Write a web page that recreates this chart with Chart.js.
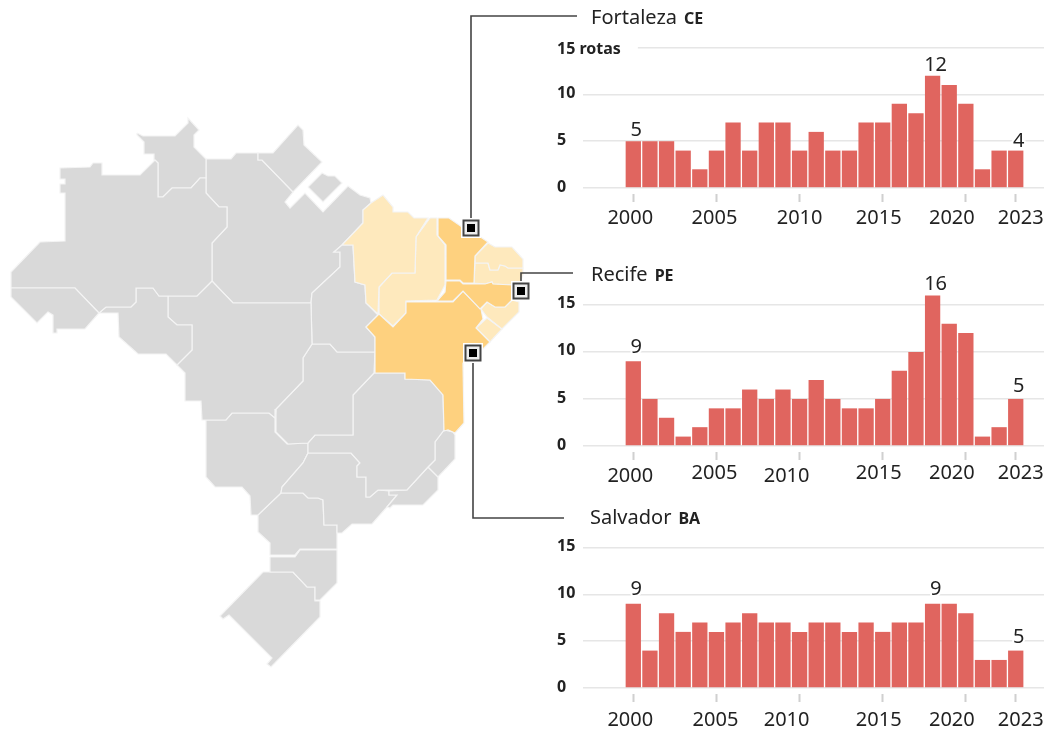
<!DOCTYPE html>
<html lang="pt">
<head>
<meta charset="utf-8">
<title>Rotas</title>
<script src="https://cdn.jsdelivr.net/npm/chart.js@4"></script>
<style>
    body{margin:0;background:#fff;font-family:"Noto Sans",sans-serif;color:#222;}
    #page{position:relative;width:1049px;height:731px;overflow:hidden;}
    canvas{position:absolute;filter:blur(0.35px);}
    .city{position:absolute;left:591px;font-size:20px;line-height:24px;white-space:nowrap;}
    .city b{font-size:16px;margin-left:7px;}
</style>
</head>
<body>
<div id="page">
    <canvas id="map" width="1049" height="731" style="left:0;top:0"></canvas>
    <canvas id="fortaleza"></canvas>
    <canvas id="recife"></canvas>
    <canvas id="salvador"></canvas>
    <div class="city" style="top:5px">Fortaleza<b>CE</b></div>
    <div class="city" style="top:262px">Recife<b>PE</b></div>
    <div class="city" style="top:505px;left:590px">Salvador<b>BA</b></div>
</div>
<script>
'use strict';
// --------bar data------
const years = [2000,2001,2002,2003,2004,2005,2006,2007,2008,2009,2010,2011,2012,2013,2014,2015,2016,2017,2018,2019,2020,2021,2022,2023];
const tickYears = [2000,2005,2010,2015,2020,2023];
const yTicks = [0,5,10,15];

const fortalezaValues = [5,5,5,4,2,4,7,4,7,7,4,6,4,4,7,7,9,8,12,11,9,2,4,4];
const recifeValues = [9,5,3,1,2,4,4,6,5,6,5,7,5,4,4,5,8,10,16,13,12,1,2,5];
const salvadorValues = [9,4,8,6,7,6,7,8,7,7,6,7,7,6,7,6,7,7,9,9,8,3,3,4];

// numbers written above the bars, as printed on the original
const labelYears = [2000,2018,2023];
const fortalezaNotes = [5,12,4];
const recifeNotes = [9,16,5];
const salvadorNotes = [9,9,5];

// --------map data------
const acre = [[11,288],[75,288],[99,313],[85,329],[57,329],[57,333],[53,333],[53,315],[48,312],[37,323],[11,297]];
const amazonas = [[11,288],[11,272],[40,242],[65,241],[65,193],[60,193],[60,184],[65,184],[65,179],[60,179],[60,168],[90,167],[93,163],[102,163],[102,175],[140,175],[155,160],[158,163],[158,197],[163,197],[172,188],[191,188],[200,178],[206,178],[206,193],[219,207],[227,207],[227,227],[212,243],[212,281],[197,296],[159,296],[153,288],[136,288],[136,302],[131,307],[106,307],[99,313],[75,288]];
const roraima = [[137,133],[143,136],[175,136],[188,123],[188,118],[199,130],[194,135],[194,147],[206,159],[206,178],[200,178],[191,188],[172,188],[163,197],[158,197],[158,163],[155,160],[154,154],[144,154],[144,142],[137,135]];
const rondonia = [[99,313],[118,313],[119,337],[138,354],[166,354],[177,365],[192,350],[192,325],[177,325],[168,317],[168,296],[159,296],[153,288],[136,288],[136,302],[131,307],[106,307]];
const matoGrosso = [[168,296],[197,296],[212,281],[233,303],[311,303],[312,344],[303,358],[303,381],[276,409],[275,418],[269,413],[232,413],[226,420],[202,420],[201,401],[185,401],[185,373],[177,365],[192,350],[192,325],[177,325],[168,317]];
const tocantins = [[312,293],[340,267],[340,252],[334,252],[342,245],[353,245],[355,282],[365,285],[366,303],[378,315],[366,327],[375,337],[375,352],[337,352],[330,344],[312,344],[311,303]];
const goias = [[312,344],[303,358],[303,381],[276,409],[276,432],[288,444],[308,443],[315,435],[353,435],[353,395],[374,373],[375,352],[337,352],[330,344]];
const distrito = [[334,382],[350,382],[350,392],[334,392]];
const minas = [[374,373],[405,373],[405,379],[430,380],[443,393],[444,430],[435,442],[435,460],[428,467],[407,490],[378,490],[370,497],[366,497],[366,477],[357,477],[357,466],[360,463],[351,453],[308,453],[308,443],[315,435],[353,435],[353,395]];
const espirito = [[444,430],[453,432],[455,435],[455,459],[438,477],[428,467],[435,460],[435,442]];
const rio = [[428,467],[438,477],[438,490],[423,505],[393,505],[390,508],[387,507],[397,495],[389,495],[389,491],[407,490]];
const saoPaulo = [[308,453],[351,453],[360,463],[357,466],[357,477],[366,477],[366,497],[370,497],[378,490],[389,491],[389,495],[397,495],[387,507],[372,524],[352,524],[342,533],[337,533],[337,525],[324,525],[323,500],[318,498],[308,498],[303,493],[281,493],[282,487],[303,463]];
const matoGrossoSul = [[206,420],[226,420],[232,413],[269,413],[275,418],[275,432],[287,444],[308,443],[308,453],[303,463],[282,487],[281,493],[258,515],[251,515],[250,496],[242,487],[215,487],[206,477]];
const parana = [[281,493],[303,493],[308,498],[318,498],[323,500],[324,525],[337,525],[337,549],[300,549],[295,555],[270,555],[270,543],[258,532],[258,515]];
const santaCatarina = [[270,557],[295,557],[300,550],[337,550],[337,583],[320,600],[315,600],[315,587],[307,587],[293,572],[270,572]];
const rioGrande = [[263,572],[293,572],[307,587],[315,587],[315,601],[320,601],[320,617],[271,667],[267,664],[272,658],[229,615],[223,619],[220,616]];
const amapa = [[260,153],[273,153],[298,125],[303,130],[304,145],[322,162],[293,192],[262,160],[258,160],[258,153]];
const marajo = [[308,187],[322,173],[328,176],[335,176],[342,183],[323,202]];
const para = [[206,159],[231,159],[236,153],[258,153],[258,160],[262,160],[293,192],[285,202],[290,208],[305,193],[323,212],[348,186],[360,195],[370,198],[371,203],[363,210],[363,223],[342,245],[334,252],[340,252],[340,267],[312,293],[311,303],[233,303],[212,281],[212,243],[227,227],[227,207],[219,207],[206,193]];
const maranhao = [[342,245],[363,223],[363,210],[371,203],[383,195],[393,207],[393,212],[408,212],[414,218],[428,218],[416,237],[415,273],[392,273],[379,287],[378,314],[366,303],[365,285],[355,282],[353,245]];
const piaui = [[430,218],[437,218],[437,235],[445,245],[445,285],[437,300],[406,301],[406,313],[393,326],[379,314],[379,287],[392,273],[415,273],[416,237]];
const ceara = [[438,218],[449,218],[462,227],[470,230],[488,242],[475,256],[474,283],[463,283],[460,280],[446,280],[446,245],[438,236]];
const rioGrandeNorte = [[488,243],[495,247],[512,247],[523,259],[523,268],[508,268],[505,266],[500,265],[498,270],[490,270],[488,263],[475,263],[475,256]];
const paraiba = [[475,263],[488,263],[490,270],[498,270],[500,265],[505,266],[508,268],[523,268],[523,275],[520,284],[513,285],[493,284],[492,282],[485,284],[474,283]];
const pernambuco = [[446,281],[460,281],[463,284],[485,284],[492,282],[493,284],[513,285],[520,292],[512,300],[505,307],[495,307],[487,302],[480,309],[463,291],[453,301],[437,301],[445,292]];
const alagoas = [[487,302],[495,307],[505,307],[512,300],[519,302],[519,312],[502,329],[487,317],[481,309]];
const sergipe = [[487,318],[502,329],[490,342],[476,328]];
const bahia = [[379,314],[393,327],[406,313],[406,302],[453,302],[463,291],[481,309],[483,319],[476,328],[490,342],[482,350],[463,363],[464,423],[455,433],[448,430],[444,431],[443,395],[430,380],[405,379],[405,373],[375,373],[375,337],[366,327]];

const grayStates = [acre,amazonas,roraima,rondonia,matoGrosso,tocantins,goias,distrito,minas,espirito,rio,saoPaulo,matoGrossoSul,parana,santaCatarina,rioGrande,amapa,marajo,para];
const lightStates = [maranhao,piaui,rioGrandeNorte,paraiba,alagoas,sergipe];
const orangeStates = [ceara,pernambuco,bahia];

const leaderFortaleza = [[471,228],[471,16],[577,16]];
const leaderRecife = [[521,291],[521,273],[573,273]];
const leaderSalvador = [[473,353],[473,518],[564,518]];
const markers = [[471,228],[521,291],[473,353]];

// --------map code------
function toPoints(list){
    return list.map(function(p){ return {x:p[0], y:p[1]}; });
}
function stateDataset(list, color){
    return {
        data: toPoints(list.concat([list[0]])),
        showLine: true,
        fill: 'shape',
        backgroundColor: color,
        borderColor: '#f4f4f4',
        borderWidth: 1.2,
        pointRadius: 0,
        tension: 0
    };
}
function leaderDataset(list){
    return {
        data: toPoints(list),
        showLine: true,
        fill: false,
        borderColor: '#444',
        borderWidth: 1.6,
        pointRadius: 0,
        tension: 0
    };
}
function markerDataset(side, fill, stroke, strokeWidth){
    return {
        data: toPoints(markers),
        pointStyle: 'rect',
        pointRadius: side / 2 * Math.SQRT2,
        backgroundColor: fill,
        borderColor: stroke,
        borderWidth: strokeWidth
    };
}

const mapSets = [
    markerDataset(8, '#000', '#000', 0),
    markerDataset(15, '#eee', '#444', 2),
    markerDataset(20, '#fff', '#fff', 0),
    leaderDataset(leaderFortaleza),
    leaderDataset(leaderRecife),
    leaderDataset(leaderSalvador)
];
orangeStates.forEach(function(s){ mapSets.push(stateDataset(s, '#fed17f')); });
lightStates.forEach(function(s){ mapSets.push(stateDataset(s, '#fee9bd')); });
grayStates.forEach(function(s){ mapSets.push(stateDataset(s, '#d9d9d9')); });

new Chart('map', {
    type: 'scatter',
    data: {datasets: mapSets},
    options: {
        responsive: false,
        animation: false,
        clip: false,
        layout: {autoPadding: false},
        plugins: {legend: {display: false}, tooltip: {enabled: false}},
        scales: {
            x: {type: 'linear', display: false, min: 0, max: 1049},
            y: {type: 'linear', display: false, min: 0, max: 731, reverse: true}
        }
    }
});

// ----bar charts
// tick labels sit a little off their ticks in the original, moved here after layout
const nudgePlugin = {
    id: 'nudge',
    beforeDraw: function(chart, args, opts){
        chart.scales.x.getLabelItems().forEach(function(item, i){
            if(item.moved){ return; }
            item.options.translation[0] += opts.x[i];
            item.options.translation[1] += opts.y[i];
            item.moved = true;
        });
        chart.scales.y.getLabelItems().forEach(function(item){
            if(item.moved){ return; }
            item.options.translation[1] += item.label.length > 2 ? 2 : -1;
            item.moved = true;
        });
    }
};

const notePlugin = {
    id: 'notes',
    afterDatasetsDraw: function(chart, args, opts){
        const ctx = chart.ctx;
        const bars = chart.getDatasetMeta(0).data;
        ctx.save();
        ctx.font = '20px "Noto Sans"';
        ctx.textAlign = 'center';
        ctx.textBaseline = 'middle';
        ctx.lineJoin = 'round';
        labelYears.forEach(function(year, i){
            const bar = bars[years.indexOf(year)];
            const x = bar.x + 3;
            const y = bar.y - 14 + opts.shift[i];
            ctx.strokeStyle = '#fff';
            ctx.lineWidth = 4;
            ctx.strokeText(opts.notes[i], x, y);
            ctx.fillStyle = '#222';
            ctx.fillText(opts.notes[i], x, y);
        });
        ctx.restore();
    }
};

function drawBars(id, values, notes, noteShift, zeroY, unit, topLabel, nudgeX, nudgeY){
    const yMax = 17;
    const padTop = 30;
    const canvas = document.getElementById(id);
    canvas.width = 499;
    canvas.height = Math.round(padTop + yMax * unit + 47);
    canvas.style.left = '550px';
    canvas.style.top = Math.round(zeroY - yMax * unit - padTop) + 'px';

    new Chart(canvas, {
        type: 'bar',
        data: {
            labels: years,
            datasets: [{
                data: values,
                backgroundColor: '#e0655f',
                categoryPercentage: 1,
                barPercentage: 0.92
            }]
        },
        plugins: [nudgePlugin, notePlugin],
        options: {
            responsive: false,
            animation: false,
            layout: {padding: {left: 7, right: 5, top: padTop, bottom: 0}},
            plugins: {
                legend: {display: false},
                tooltip: {enabled: false},
                nudge: {x: nudgeX, y: nudgeY},
                notes: {notes: notes, shift: noteShift}
            },
            scales: {
                x: {
                    type: 'linear',
                    offset: false,
                    min: 1996.975,
                    max: 2024.7,
                    afterBuildTicks: function(scale){
                        scale.ticks = tickYears.map(function(v){ return {value: v}; });
                    },
                    afterFit: function(scale){ scale.height = 47; },
                    border: {display: false},
                    grid: {
                        offset: false,
                        drawOnChartArea: false,
                        tickLength: 14,
                        tickColor: '#d0d0d0',
                        tickWidth: 2,
                        tickBorderDash: [0,6,8,30]
                    },
                    ticks: {
                        autoSkip: false,
                        maxRotation: 0,
                        padding: 6,
                        color: '#222',
                        font: {family: '"Noto Sans"', size: 20},
                        callback: function(v){ return String(v); }
                    }
                },
                y: {
                    type: 'linear',
                    min: 0,
                    max: yMax,
                    afterBuildTicks: function(scale){
                        scale.ticks = yTicks.map(function(v){ return {value: v}; });
                    },
                    afterFit: function(scale){ scale.width = 26; },
                    border: {display: false},
                    grid: {color: '#e6e6e6', lineWidth: 1.6, drawTicks: false},
                    ticks: {
                        mirror: true,
                        padding: -26,
                        color: '#222',
                        font: {family: '"Noto Sans"', size: 16, weight: 'bold'},
                        showLabelBackdrop: function(c){ return !!topLabel && c.tick.value === 15; },
                        backdropColor: '#fff',
                        backdropPadding: {left: 0, right: 17, top: 3, bottom: 3},
                        callback: function(v){
                            return (topLabel && v === 15) ? topLabel : String(v);
                        }
                    }
                }
            }
        }
    });
}

drawBars('fortaleza', fortalezaValues, fortalezaNotes, [3,4,5], 188, 9.33, '15 rotas', [-3,-2,0,-4,-14,5], [-2,-2,-2,-2,-2,-2]);
drawBars('recife', recifeValues, recifeNotes, [0,3,1], 446, 9.4, '', [-3,-2,-13,-4,-14,5], [-2,-5,-2,-5,-5,-5]);
drawBars('salvador', salvadorValues, salvadorNotes, [-1,-1,1], 688, 9.33, '', [-3,-1,-13,-4,-14,5], [0,0,0,0,0,0]);
</script>
</body>
</html>
